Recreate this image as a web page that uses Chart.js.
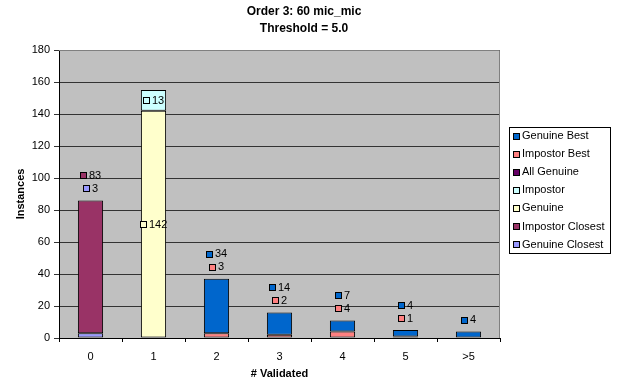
<!DOCTYPE html>
<html>
<head>
<meta charset="utf-8">
<script src="https://cdn.jsdelivr.net/npm/chart.js@4/dist/chart.umd.min.js"></script>
<style>
  html, body { margin: 0; padding: 0; background: #fff; }
  #wrap { width: 623px; height: 385px; position: relative; }
</style>
</head>
<body>
<div id="wrap"><canvas id="c" width="623" height="385"></canvas></div>
<script>
// Number of validated instances per bucket
const categories = ['0', '1', '2', '3', '4', '5', '>5'];

// Series values (null = no bar segment)
const genuineClosest  = [3, null, null, null, null, null, null];
const impostorClosest = [83, null, null, null, null, null, null];
const genuine         = [null, 142, null, null, null, null, null];
const impostor        = [null, 13, null, null, null, null, null];
const allGenuine      = [null, null, null, null, null, null, null];
const impostorBest    = [null, null, 3, 2, 4, 1, null];
const genuineBest     = [null, null, 34, 14, 7, 4, 4];

const yTicks = [0, 20, 40, 60, 80, 100, 120, 140, 160, 180];

const titleLines = ['Order 3: 60 mic_mic', 'Threshold = 5.0'];

// Where the value labels of each column sit: inside the segments or stacked above the column
const labelMode = ['above', 'center', 'above', 'above', 'above', 'above', 'above'];

const FONT = '"Liberation Sans", Arial, sans-serif';

// Stacked from bottom to top; the legend lists them top to bottom
const datasets = [
  { label: 'Genuine Closest',  data: genuineClosest,  backgroundColor: '#9999FF' },
  { label: 'Impostor Closest', data: impostorClosest, backgroundColor: '#993366' },
  { label: 'Genuine',          data: genuine,         backgroundColor: '#FFFFCC' },
  { label: 'Impostor',         data: impostor,        backgroundColor: '#CCFFFF' },
  { label: 'All Genuine',      data: allGenuine,      backgroundColor: '#660066' },
  { label: 'Impostor Best',    data: impostorBest,    backgroundColor: '#FF8080' },
  { label: 'Genuine Best',     data: genuineBest,     backgroundColor: '#0066CC' }
].map(d => Object.assign(d, {
  borderColor: '#000000',
  borderWidth: 1,
  borderSkipped: false,
  barPercentage: 0.4,
  categoryPercentage: 1.0
}));

function drawKey(ctx, x, y, color) {
  ctx.fillStyle = color;
  ctx.fillRect(x, y, 6, 6);
  ctx.strokeStyle = '#000';
  ctx.lineWidth = 1;
  ctx.strokeRect(x + 0.5, y + 0.5, 6, 6);
}

const excelLook = {
  id: 'excelLook',
  beforeDraw(chart) {
    const { ctx, chartArea: a } = chart;
    ctx.save();
    ctx.fillStyle = '#C0C0C0';
    ctx.fillRect(a.left, a.top, a.right - a.left, a.bottom - a.top);
    ctx.restore();
  },
  afterDatasetsDraw(chart) {
    const { ctx, chartArea: a } = chart;
    ctx.save();
    // plot frame (top and right)
    ctx.strokeStyle = '#808080';
    ctx.lineWidth = 1;
    ctx.beginPath();
    ctx.moveTo(a.left, a.top + 0.5);
    ctx.lineTo(a.right - 0.5, a.top + 0.5);
    ctx.lineTo(a.right - 0.5, a.bottom);
    ctx.stroke();

    // value labels with legend keys
    ctx.font = '11px ' + FONT;
    ctx.textBaseline = 'middle';
    ctx.textAlign = 'left';
    const yScale = chart.scales.y;
    categories.forEach((cat, i) => {
      const segs = [];
      let base = 0;
      chart.data.datasets.forEach((ds, di) => {
        const v = ds.data[i];
        if (v === null || v === undefined) return;
        const bar = chart.getDatasetMeta(di).data[i];
        segs.push({ v, color: ds.backgroundColor, x: bar.x, lo: base, hi: base + v });
        base += v;
      });
      if (!segs.length) return;
      const topPx = yScale.getPixelForValue(base);
      segs.forEach((s, k) => {
        let cy;
        if (labelMode[i] === 'center') {
          cy = yScale.getPixelForValue((s.lo + s.hi) / 2);
        } else {
          cy = topPx - 12 - k * 13;
        }
        const txt = String(s.v);
        const w = 6 + 3 + ctx.measureText(txt).width;
        const x0 = Math.round(s.x - w / 2);
        drawKey(ctx, x0, Math.round(cy - 3), s.color);
        ctx.fillStyle = '#000';
        ctx.fillText(txt, x0 + 9, cy + 0.5);
      });
    });

    // title
    ctx.textAlign = 'center';
    ctx.font = 'bold 12px ' + FONT;
    ctx.fillStyle = '#000';
    titleLines.forEach((t, k) => ctx.fillText(t, 304, 12 + k * 17));

    // legend
    const lx = 509, ly = 127, lw = 101, lh = 126;
    ctx.fillStyle = '#fff';
    ctx.fillRect(lx, ly, lw, lh);
    ctx.strokeStyle = '#000';
    ctx.strokeRect(lx + 0.5, ly + 0.5, lw, lh);
    ctx.font = '11px ' + FONT;
    ctx.textAlign = 'left';
    const items = chart.data.datasets.slice().reverse();
    items.forEach((ds, k) => {
      const cy = ly + 8.5 + k * 18.1;
      drawKey(ctx, lx + 4, Math.round(cy - 3), ds.backgroundColor);
      ctx.fillStyle = '#000';
      ctx.fillText(ds.label, lx + 13, cy + 0.5);
    });
    ctx.restore();
  }
};

new Chart(document.getElementById('c'), {
  type: 'bar',
  data: { labels: categories, datasets },
  options: {
    responsive: false,
    animation: false,
    devicePixelRatio: 1,
    layout: { padding: { top: 50, right: 123, left: 0, bottom: 0 } },
    plugins: {
      legend: { display: false },
      title: { display: false },
      tooltip: { enabled: false }
    },
    scales: {
      x: {
        stacked: true,
        grid: { display: true, drawOnChartArea: false, drawTicks: true, tickLength: 4, color: '#000', offset: true },
        border: { display: true, color: '#000', width: 1 },
        ticks: { color: '#000', font: { family: FONT, size: 11 }, padding: 8, maxRotation: 0 },
        title: { display: true, text: '# Validated', color: '#000', font: { family: FONT, size: 11, weight: 'bold' }, padding: { top: 0, bottom: 4 } },
        afterFit(scale) { scale.height = 47; }
      },
      y: {
        stacked: true,
        min: 0,
        max: 180,
        afterBuildTicks(scale) { scale.ticks = yTicks.map(v => ({ value: v })); },
        grid: { color: '#333333', tickLength: 5, drawTicks: true },
        border: { display: true, color: '#000', width: 1 },
        ticks: { color: '#000', font: { family: FONT, size: 11 }, padding: 4 },
        title: { display: true, text: 'Instances', color: '#000', font: { family: FONT, size: 11, weight: 'bold' }, padding: { top: 14, bottom: 0 } },
        afterFit(scale) { scale.width = 59; }
      }
    }
  },
  plugins: [excelLook]
});
</script>
</body>
</html>
